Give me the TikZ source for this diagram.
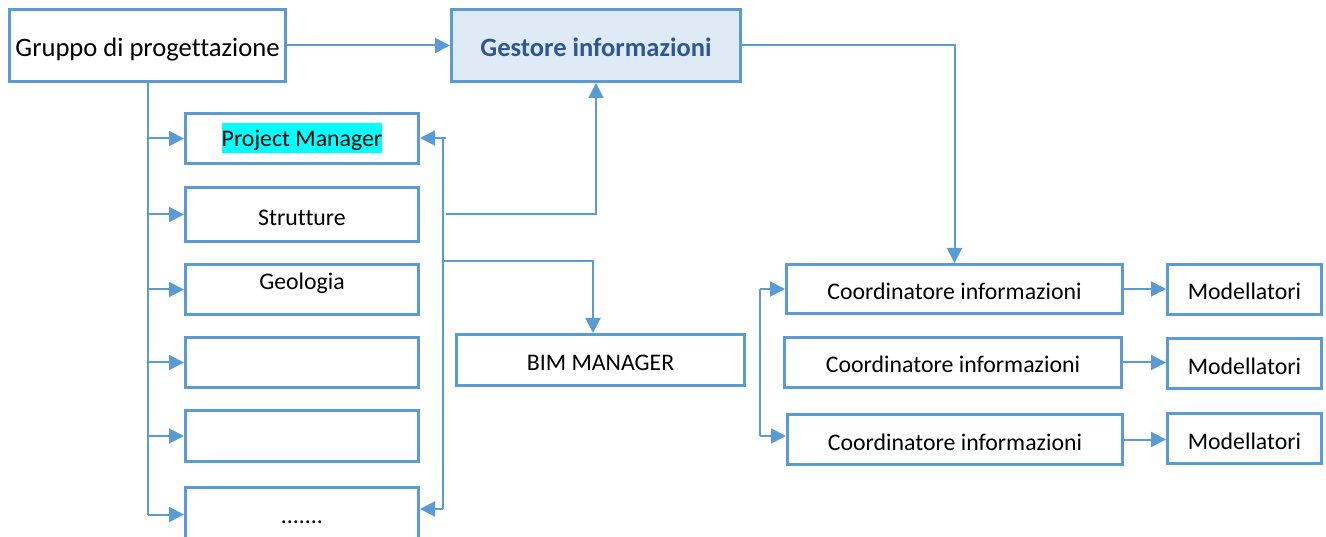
\documentclass[tikz,border=0pt]{standalone}
\usepackage{fontspec}
\setmainfont[Ligatures=NoCommon]{Carlito}
\usetikzlibrary{arrows.meta}

\definecolor{boxblue}{HTML}{5B9BD5}
\definecolor{headfill}{HTML}{DEEBF7}
\definecolor{headtext}{HTML}{2F5597}
\definecolor{hlcyan}{RGB}{0,255,255}
\newcommand{\pmhl}[1]{{\setlength{\fboxsep}{0pt}\colorbox{hlcyan}{\rule[-7pt]{0pt}{30pt}#1}}}

\begin{document}
\begin{tikzpicture}[x=1pt,y=-1pt,
    box/.style={draw=boxblue,line width=3pt,inner sep=0pt,minimum height=50pt,
                text height=21pt,text depth=0pt,
                font=\fontsize{23.8}{28}\selectfont},
    link/.style={draw=boxblue,line width=2pt},
    arr/.style={link,-{Triangle[length=15pt,width=15pt]}}]

        \useasboundingbox (0,0) rectangle (1326,537);

            % Top row
            \node[box,minimum width=276pt,minimum height=72pt,text height=22pt,font=\fontsize{26.6}{30}\selectfont] (Gruppo) at (147.5,45.5) {Gruppo di progettazione};
            \node[box,fill=headfill,text=headtext,minimum width=289pt,minimum height=72pt,text height=22pt,font=\fontsize{26.5}{30}\selectfont\bfseries] (Gestore) at (596,45.5) {Gestore informazioni};

            % Design team
            \node[box,minimum width=233pt,text height=23pt,text depth=7pt] (PM) at (302,138.5) {\pmhl{Project Manager}};
            \node[box,minimum width=233pt,minimum height=54pt,text height=23pt] (Strutture) at (302,214.5) {Strutture};
            \node[box,minimum width=233pt] (Geologia) at (302,289.5) {\raisebox{10pt}{Geologia}};
            \node[box,minimum width=233pt] (Vuoto1) at (302,362.5) {};
            \node[box,minimum width=233pt,minimum height=51pt] (Vuoto2) at (302,436) {};
            \node[box,minimum width=233pt,minimum height=54pt,text height=18pt] (Altri) at (302,514.5) {.......};

            % BIM
            \node[box,minimum width=288pt,minimum height=51pt] (BIM) at (600.5,360) {BIM MANAGER};

            % Coordinators and modellers
            \node[box,minimum width=336pt,minimum height=49pt] (C1) at (954.5,289) {Coordinatore informazioni};
            \node[box,minimum width=337pt] (C2) at (953,362.5) {Coordinatore informazioni};
            \node[box,minimum width=335pt] (C3) at (955,439.5) {Coordinatore informazioni};
            \node[box,minimum width=154pt] (M1) at (1244.5,289.5) {Modellatori};
            \node[box,minimum width=154pt] (M2) at (1244.5,363.5) {Modellatori};
            \node[box,minimum width=154pt] (M3) at (1244.5,438.5) {Modellatori};

            % Bus points
            \coordinate (busTop) at (443,138);
            \coordinate (busBot) at (443,509);
            \coordinate (toGest) at (446,214);
            \coordinate (toBim) at (443,261);
            \coordinate (brTop) at (760,289);
            \coordinate (brBot) at (760,436);

            % Arrows from the group
            \draw[arr] (Gruppo.east) -- (Gestore.west);
            \draw[link] (Gruppo.south) -- (Gruppo.south |- Altri.west);
            \draw[arr] (Gruppo.south |- PM.west) -- (PM.west);
            \draw[arr] (Gruppo.south |- Strutture.west) -- (Strutture.west);
            \draw[arr] (Gruppo.south |- Geologia.west) -- (Geologia.west);
            \draw[arr] (Gruppo.south |- Vuoto1.west) -- (Vuoto1.west);
            \draw[arr] (Gruppo.south |- Vuoto2.west) -- (Vuoto2.west);
            \draw[arr] (Gruppo.south |- Altri.west) -- (Altri.west);

            % Right-hand bus
            \draw[arr] ([xshift=3pt]busTop) -- (PM.east |- busTop);
            \draw[link] (busTop) -- (busBot);
            \draw[arr] (busBot) -- (Altri.east |- busBot);
            \draw[arr] (toGest) -| (Gestore.south);
            \draw[arr] (toBim) -| ([xshift=-7.5pt]BIM.north);

            % Manager to coordinators
            \draw[arr] (Gestore.east) -| (C1.north);
            \draw[arr] (brTop) -- (C1.west |- brTop);
            \draw[link] (brTop) -- (brBot);
            \draw[arr] (brBot) -- (C3.west |- brBot);
            \draw[arr] (C1.east) -- (M1.west |- C1.east);
            \draw[arr] (C2.east) -- (M2.west |- C2.east);
            \draw[arr] (C3.east) -- (M3.west |- C3.east);

        \end{tikzpicture}
\end{document}
